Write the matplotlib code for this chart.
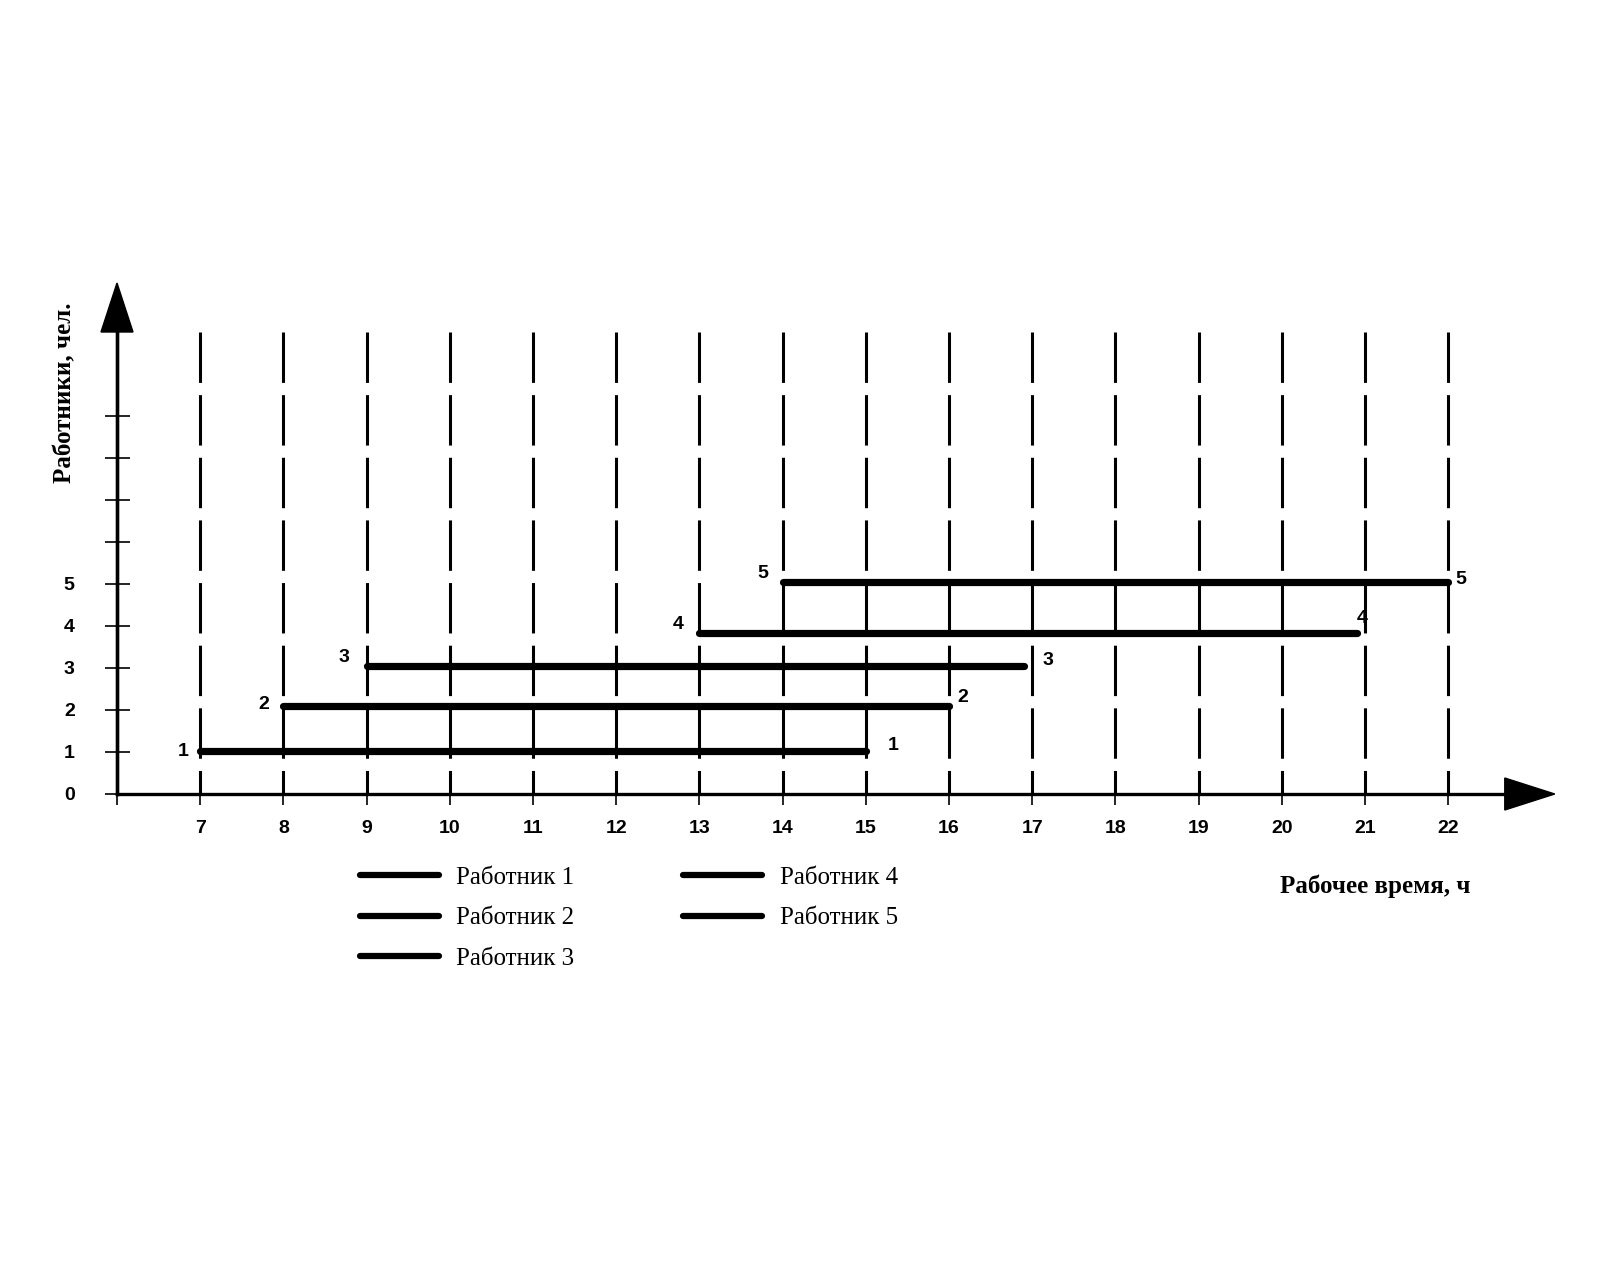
import matplotlib
matplotlib.use("Agg")
import matplotlib.pyplot as plt
from matplotlib.patches import Polygon

# ---- data ----
workers = ["Работник 1", "Работник 2", "Работник 3", "Работник 4", "Работник 5"]
worker_ids = ["1", "2", "3", "4", "5"]
starts = [7, 8, 9, 13, 14]
ends = [15, 16, 16.9, 20.9, 22]
levels = [1.02, 2.1, 3.05, 3.84, 5.05]
hours = list(range(7, 23))
y_ticks = list(range(0, 10))
y_ticklabels = ["0", "1", "2", "3", "4", "5", "", "", "", ""]
x_label = "Рабочее время, ч"
y_label = "Работники, чел."

# label offsets (points) for start / end numbers
start_off = [(-12, 0), (-14, 1), (-16, 6), (-15, 6), (-14, 6)]
end_off = [(20, 4), (10, 6), (17, 4), (4, 10), (9, 2)]

SERIF = ["Liberation Serif", "DejaVu Serif"]
SANS = ["Liberation Sans", "DejaVu Sans"]

fig = plt.figure(figsize=(16, 12.8), dpi=100)
W, H = 1600, 1280
x0, x1 = 6, 22.68
y0, y1 = 0, 11
left_px, bottom_px = 117, 794
px_x = 83.2
px_y = 42
ax = fig.add_axes([left_px / W, 1 - bottom_px / H,
                   (x1 - x0) * px_x / W, (y1 - y0) * px_y / H])
ax.set_xlim(x0, x1)
ax.set_ylim(y0, y1)
for s in ["top", "right"]:
    ax.spines[s].set_visible(False)
for s in ["left", "bottom"]:
    ax.spines[s].set_linewidth(2.4)
    ax.spines[s].set_color("black")

# ticks
ax.set_xticks([6] + hours)
ax.set_xticklabels([""] + [str(h) for h in hours])
ax.tick_params(axis="x", direction="out", length=8, width=1.2, pad=11,
               labelsize=14)
ax.set_yticks(y_ticks)
ax.set_yticklabels(y_ticklabels)
ax.tick_params(axis="y", direction="inout", length=18, width=1.2, pad=21.5,
               labelsize=14)
for lab in ax.get_xticklabels() + ax.get_yticklabels():
    lab.set_family(SANS)
    lab.set_fontweight("bold")

# dashed vertical grid lines
for h in hours:
    ax.plot([h, h], [11, 0], color="black", lw=2.2,
            dashes=(16.5, 4.0), solid_capstyle="butt", dash_capstyle="butt",
            zorder=2, clip_on=False)

# arrowheads
yh = 16 / px_x
ax.add_patch(Polygon([[x0 - yh, 11], [x0 + yh, 11], [x0, 11 + 49 / px_y]],
                     closed=True, color="black", clip_on=False, zorder=5))
ax.plot([x0, x0], [0, 11], color="black", lw=2.4, clip_on=False)
xh = 16 / px_y
ax.add_patch(Polygon([[x1, -xh], [x1, xh], [x1 + 50 / px_x, 0]],
                     closed=True, color="black", clip_on=False, zorder=5))

# worker segments
handles = []
for i in range(len(workers)):
    ln, = ax.plot([starts[i], ends[i]], [levels[i], levels[i]],
                  color="black", lw=5.2, solid_capstyle="round",
                  zorder=4, label=workers[i], clip_on=False)
    handles.append(ln)
    ax.annotate(worker_ids[i], (starts[i], levels[i]), xytext=start_off[i],
                textcoords="offset points", ha="center", va="center",
                fontsize=14, fontweight="bold", family=SANS)
    ax.annotate(worker_ids[i], (ends[i], levels[i]), xytext=end_off[i],
                textcoords="offset points", ha="center", va="center",
                fontsize=14, fontweight="bold", family=SANS)

leg = ax.legend(handles=handles, labels=workers, ncol=2, loc="upper left",
                bbox_to_anchor=(360 / W, 1 - 866 / H),
                bbox_transform=fig.transFigure, frameon=False,
                borderpad=0, borderaxespad=0, handlelength=3.16,
                handletextpad=0.7, columnspacing=4.35, labelspacing=0.73,
                prop={"family": SERIF, "size": 18})
for lh in leg.get_lines():
    lh.set_linewidth(4.5)
    lh.set_solid_capstyle("round")

fig.text(1280 / W, 1 - 886 / H, x_label, ha="left", va="center",
         fontsize=18, fontweight="bold", family=SERIF)
fig.text(65 / W, 1 - 393 / H, y_label, ha="center", va="center",
         rotation=90, fontsize=18, fontweight="bold", family=SERIF)

fig.savefig("out.png", dpi=100)
